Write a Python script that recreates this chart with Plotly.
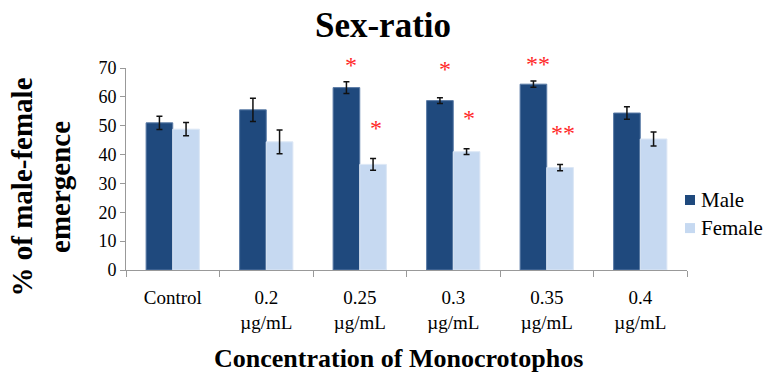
import plotly.graph_objects as go

# Sex-ratio of emerged adults under increasing monocrotophos concentrations
categories = ["Control", "0.2<br>µg/mL", "0.25<br>µg/mL", "0.3<br>µg/mL", "0.35<br>µg/mL", "0.4<br>µg/mL"]
male_pct = [51.0, 55.5, 63.2, 58.7, 64.4, 54.4]
male_err = [2.3, 4.0, 2.0, 1.0, 1.1, 2.2]
female_pct = [48.8, 44.4, 36.6, 41.0, 35.5, 45.4]
female_err = [2.3, 4.1, 2.0, 1.0, 1.1, 2.4]
male_sig = ["", "", "*", "*", "**", ""]
female_sig = ["", "", "*", "*", "**", ""]

MALE_COLOR = "#1F497D"
FEMALE_COLOR = "#C6D9F1"
SERIF = "Liberation Serif"

series = [
    ("Male", male_pct, male_err, MALE_COLOR, "#5A7BA6"),
    ("Female", female_pct, female_err, FEMALE_COLOR, "#DCE7F5"),
]

fig = go.Figure()
for name, vals, errs, color, edge in series:
    fig.add_trace(go.Bar(
        name=name, x=categories, y=vals,
        marker=dict(color=color, line=dict(color=edge, width=1)),
        error_y=dict(type="data", array=errs, color="#111111", thickness=1.5, width=3),
    ))

# Significance asterisks placed above each error bar
annotations = []
for i, cat in enumerate(categories):
    for sig, val, err, off, shift in (
        (male_sig[i], male_pct[i], male_err[i], -0.09, 14),
        (female_sig[i], female_pct[i], female_err[i], 0.17, 16),
    ):
        if not sig:
            continue
        annotations.append(dict(
            x=i + off, y=val + err, xref="x", yref="y",
            text=sig, showarrow=False,
            yanchor="bottom", yshift=shift if val + err < 65 else 2,
            font=dict(family=SERIF, size=24, color="#FF2828"),
        ))

# Axis titles drawn as annotations (two-line y title is rotated)
annotations.append(dict(
    text="<b>% of male-female<br>emergence</b>", textangle=-90,
    x=-0.151, y=0.41, xref="paper", yref="paper",
    xanchor="center", yanchor="middle", showarrow=False,
    font=dict(family=SERIF, size=29, color="#000000"),
))
annotations.append(dict(
    text="<b>Concentration of Monocrotophos</b>",
    x=0.485, y=-0.436, xref="paper", yref="paper",
    xanchor="center", yanchor="middle", showarrow=False,
    font=dict(family=SERIF, size=26, color="#000000"),
))

# Compact legend at the right edge: colour square followed by series name
shapes = []
for k, (name, _, _, color, _) in enumerate(series):
    yc = 0.3465 - k * 0.139
    shapes.append(dict(type="rect", xref="paper", yref="paper",
                       x0=0.9964, x1=1.0143, y0=yc - 0.0248, y1=yc + 0.0248,
                       fillcolor=color, line=dict(width=0)))
    annotations.append(dict(text=name, x=1.0214, y=yc, xref="paper", yref="paper",
                            xanchor="left", yanchor="middle", showarrow=False,
                            font=dict(family=SERIF, size=21, color="#000000")))

fig.update_layout(
    width=766, height=375,
    margin=dict(l=126, r=79, t=68, b=105),
    paper_bgcolor="white", plot_bgcolor="white",
    barmode="group", bargap=0.43, bargroupgap=0,
    font=dict(family=SERIF, color="#000000"),
    title=dict(text="<b>Sex-ratio</b>", x=0.5, xanchor="center", y=0.935, yanchor="middle",
               font=dict(family=SERIF, size=35, color="#000000")),
    annotations=annotations,
    shapes=shapes,
    showlegend=False,
)
fig.update_xaxes(
    type="category", tickson="boundaries", ticks="outside", ticklen=6,
    tickcolor="#999999", showline=True, linecolor="#999999", linewidth=1,
    tickfont=dict(family=SERIF, size=19), showgrid=False, ticklabelstandoff=10,
)
fig.update_yaxes(
    range=[0, 70], dtick=10, ticks="outside", ticklen=5, tickcolor="#999999",
    showline=True, linecolor="#999999", linewidth=1, showgrid=False, zeroline=False,
    tickfont=dict(family=SERIF, size=18),
)

fig.write_html("out.html")
